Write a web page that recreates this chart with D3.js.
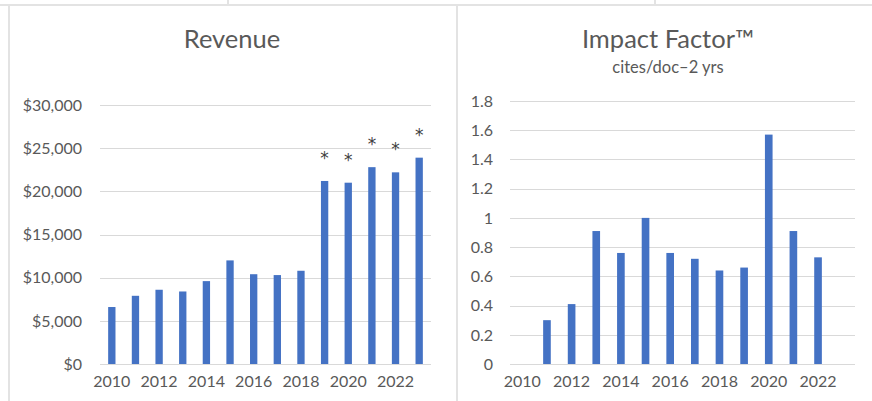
<!DOCTYPE html>
<html><head><meta charset="utf-8">
<script src="https://cdn.jsdelivr.net/npm/d3@7/dist/d3.min.js"></script>
<style>body{margin:0;background:#fff}svg{display:block}</style>
</head><body>
<svg id="c" width="872" height="401"></svg>
<script>
const years = [2010,2011,2012,2013,2014,2015,2016,2017,2018,2019,2020,2021,2022,2023];
const revenue = [6600,7900,8600,8400,9600,12000,10400,10300,10800,21200,21000,22800,22200,23900];
const revenueMarks = ["","","","","","","","","","*","*","*","*","*"];
const impact = [null,0.30,0.41,0.91,0.76,1.00,0.76,0.72,0.64,0.66,1.57,0.91,0.73,null];
const revenueTicks = [0,5000,10000,15000,20000,25000,30000];
const impactTicks = [0,0.2,0.4,0.6,0.8,1,1.2,1.4,1.6,1.8];
const xTickYears = [2010,2012,2014,2016,2018,2020,2022];

const svg = d3.select("#c");
const FONT = "Lato, 'Open Sans', sans-serif";
const TXT = "#595959", GRID = "#d9d9d9", BAR = "#4472C4", FRAME = "#e3e3e3";

// frame lines (spreadsheet cell borders)
svg.append("line").attr("x1",0).attr("x2",872).attr("y1",5).attr("y2",5).attr("stroke",FRAME).attr("stroke-width",2);
svg.append("line").attr("x1",228).attr("x2",228).attr("y1",0).attr("y2",5).attr("stroke",FRAME).attr("stroke-width",2);
svg.append("line").attr("x1",655).attr("x2",655).attr("y1",0).attr("y2",5).attr("stroke",FRAME).attr("stroke-width",2);
svg.append("line").attr("x1",9).attr("x2",9).attr("y1",5).attr("y2",401).attr("stroke",FRAME).attr("stroke-width",2);
svg.append("line").attr("x1",457).attr("x2",457).attr("y1",5).attr("y2",401).attr("stroke",FRAME).attr("stroke-width",2);

function chart(opts){
  const g = svg.append("g");
  const x = d3.scaleBand().domain(years).range([opts.x0,opts.x1]).paddingInner(0.69).paddingOuter(0.345);
  const y = d3.scaleLinear().domain([0,opts.max]).range([opts.y0,opts.y1]);
  // grid
  g.selectAll(".grid").data(opts.ticks).join("line")
    .attr("x1",opts.x0).attr("x2",opts.x1)
    .attr("y1",d=>Math.round(y(d))+0.5).attr("y2",d=>Math.round(y(d))+0.5)
    .attr("stroke",GRID).attr("stroke-width",1.2);
  // y labels
  g.selectAll(".yl").data(opts.ticks).join("text")
    .attr("x",opts.labelX).attr("y",d=>y(d)).attr("dy","0.36em")
    .attr("text-anchor","end").attr("font-family",FONT).attr("font-size",16).attr("fill",TXT)
    .text(opts.fmt);
  // bars
  const data = years.map((yr,i)=>({yr,v:opts.values[i],m:opts.marks?opts.marks[i]:""})).filter(d=>d.v!=null);
  g.selectAll(".bar").data(data).join("rect")
    .attr("x",d=>x(d.yr)).attr("width",x.bandwidth())
    .attr("y",d=>y(d.v)).attr("height",d=>y(0)-y(d.v)).attr("fill",BAR);
  // marks
  g.selectAll(".mk").data(data.filter(d=>d.m)).join("text")
    .attr("x",d=>x(d.yr)+x.bandwidth()/2).attr("y",d=>y(d.v)-17)
    .attr("text-anchor","middle").attr("font-family","'DejaVu Sans', sans-serif").attr("font-size",17).attr("fill","#404040")
    .text(d=>d.m);
  // x labels
  g.selectAll(".xl").data(xTickYears).join("text")
    .attr("x",d=>x(d)+x.bandwidth()/2).attr("y",387)
    .attr("text-anchor","middle").attr("font-family",FONT).attr("font-size",16).attr("fill",TXT)
    .text(d=>d);
  // title
  g.append("text").attr("x",opts.titleX).attr("y",48).attr("text-anchor","middle")
    .attr("font-family",FONT).attr("font-size",25.5).attr("fill",TXT).text(opts.title);
  if(opts.subtitle){
    g.append("text").attr("x",opts.titleX).attr("y",73).attr("text-anchor","middle")
      .attr("font-family",FONT).attr("font-size",16.5).attr("fill",TXT).text(opts.subtitle);
  }
}

chart({x0:100,x1:431,y0:364,y1:105,max:30000,ticks:revenueTicks,values:revenue,marks:revenueMarks,
  labelX:82,fmt:d=>"$"+d3.format(",")(d),title:"Revenue",titleX:232});
chart({x0:510,x1:855,y0:364,y1:101,max:1.8,ticks:impactTicks,values:impact,
  labelX:493,fmt:d=>String(d),title:"Impact Factor™",subtitle:"cites/doc–2 yrs",titleX:668});
</script>
</body></html>
